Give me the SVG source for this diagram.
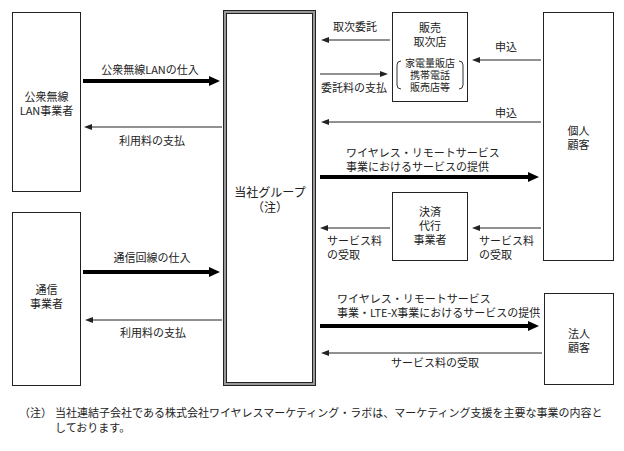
<svg xmlns="http://www.w3.org/2000/svg" width="624" height="451" viewBox="0 0 624 451">
<style>
text{font-family:"Noto Sans CJK JP","Liberation Sans",sans-serif;font-size:11px;fill:#222;}
.c{text-anchor:middle;}
.s{font-size:10px;}
.box{fill:#fff;stroke:#222;stroke-width:1;}
.thin{stroke:#222;stroke-width:1;fill:none;marker-end:url(#ah);}
.thick{stroke:#000;stroke-width:4;fill:none;marker-end:url(#AH);}
.br{fill:none;stroke:#333;stroke-width:1;}
</style>
<defs>
<marker id="ah" viewBox="0 0 8 6" refX="1" refY="3" markerWidth="8" markerHeight="6" markerUnits="userSpaceOnUse" orient="auto"><path d="M0,0 L8,3 L0,6 z" fill="#222"/></marker>
<marker id="AH" viewBox="0 0 11 10" refX="1" refY="5" markerWidth="11" markerHeight="10" markerUnits="userSpaceOnUse" orient="auto"><path d="M0,0 L11,5 L0,10 z" fill="#000"/></marker>
</defs>
<rect width="624" height="451" fill="#fff"/>

<g id="lan">
<rect class="box" x="12.5" y="12.5" width="68" height="179"/>
<text class="c" x="46.5" y="101">公衆無線</text>
<text class="c" x="46.5" y="115">LAN事業者</text>
</g>
<g id="tsushin">
<rect class="box" x="12.5" y="212.5" width="68" height="173"/>
<text class="c" x="46.5" y="294">通信</text>
<text class="c" x="46.5" y="308">事業者</text>
</g>
<g id="group">
<rect x="223.5" y="10.5" width="92" height="375" fill="#fff" stroke="#222" stroke-width="1"/>
<rect x="225" y="12" width="89" height="372" fill="none" stroke="#999" stroke-width="2"/>
<rect x="226.5" y="13.5" width="86" height="369" fill="none" stroke="#222" stroke-width="1"/>
<text class="c" x="270" y="197" style="font-size:12px">当社グループ</text>
<text class="c" x="270" y="212" style="font-size:12px">（注）</text>
</g>
<g id="hanbai">
<rect class="box" x="392.5" y="12.5" width="75" height="89"/>
<text class="c" x="430" y="32">販売</text>
<text class="c" x="430" y="46">取次店</text>
<path class="br" d="M401,61 Q397,61 397,65 L397,85 Q397,89 401,89"/>
<path class="br" d="M459,61 Q463,61 463,65 L463,85 Q463,89 459,89"/>
<text class="c s" x="430" y="67">家電量販店</text>
<text class="c s" x="430" y="79">携帯電話</text>
<text class="c s" x="430" y="91">販売店等</text>
</g>
<g id="kojin">
<rect class="box" x="543.5" y="12.5" width="70" height="248"/>
<text class="c" x="578.5" y="135">個人</text>
<text class="c" x="578.5" y="149">顧客</text>
</g>
<g id="kessai">
<rect class="box" x="392.5" y="192.5" width="75" height="68"/>
<text class="c" x="430" y="216">決済</text>
<text class="c" x="430" y="230">代行</text>
<text class="c" x="430" y="244">事業者</text>
</g>
<g id="hojin">
<rect class="box" x="544.5" y="293.5" width="69" height="91"/>
<text class="c" x="579" y="338">法人</text>
<text class="c" x="579" y="352">顧客</text>
</g>

<g id="connectors">
<line class="thick" x1="83" y1="81" x2="210" y2="81"/>
<line class="thin" x1="222" y1="127" x2="91" y2="127"/>
<line class="thick" x1="83" y1="272" x2="210" y2="272"/>
<line class="thin" x1="222" y1="320" x2="92" y2="320"/>
<line class="thin" x1="390" y1="40" x2="328" y2="40"/>
<line class="thin" x1="320" y1="74" x2="381" y2="74"/>
<line class="thin" x1="541" y1="60" x2="479" y2="60"/>
<line class="thin" x1="541" y1="122" x2="328" y2="122"/>
<line class="thick" x1="320" y1="177" x2="529" y2="177"/>
<line class="thin" x1="390" y1="228" x2="327" y2="228"/>
<line class="thin" x1="541" y1="228" x2="479" y2="228"/>
<line class="thick" x1="320" y1="326" x2="529" y2="326"/>
<line class="thin" x1="542" y1="353" x2="328" y2="353"/>
</g>

<g id="labels">
<text class="c" x="150" y="74">公衆無線LANの仕入</text>
<text class="c" x="152" y="145">利用料の支払</text>
<text class="c" x="152" y="262">通信回線の仕入</text>
<text class="c" x="153" y="337">利用料の支払</text>
<text class="c" x="355" y="31">取次委託</text>
<text x="321" y="92">委託料の支払</text>
<text class="c" x="506" y="51">申込</text>
<text class="c" x="506" y="117">申込</text>
<text x="346" y="157">ワイヤレス・リモートサービス</text>
<text x="346" y="171">事業におけるサービスの提供</text>
<text x="327" y="245">サービス料</text>
<text x="327" y="259">の受取</text>
<text x="479" y="245">サービス料</text>
<text x="479" y="259">の受取</text>
<text x="337" y="303">ワイヤレス・リモートサービス</text>
<text x="337" y="317">事業・LTE-X事業におけるサービスの提供</text>
<text class="c" x="435" y="367">サービス料の受取</text>
</g>

<g id="note">
<text x="19" y="417">（注）</text>
<text x="55" y="417">当社連結子会社である株式会社ワイヤレスマーケティング・ラボは、マーケティング支援を主要な事業の内容と</text>
<text x="55" y="432">しております。</text>
</g>
</svg>
